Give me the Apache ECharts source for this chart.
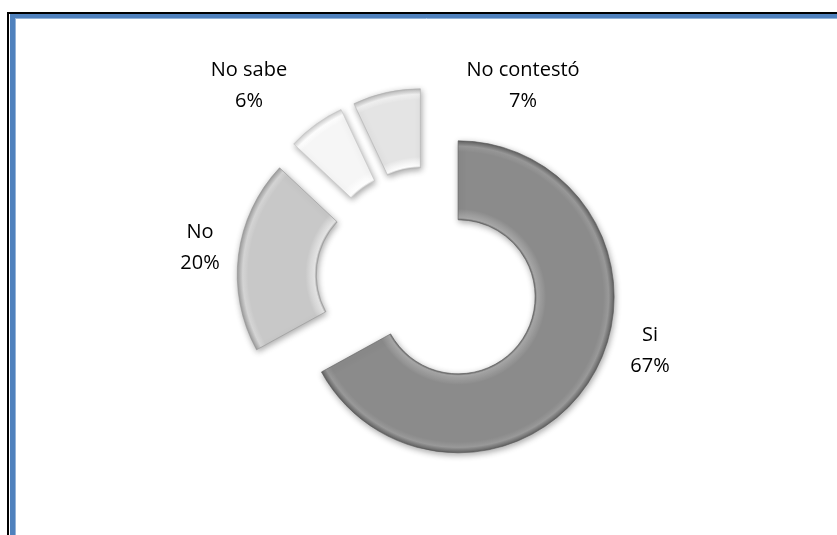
<!DOCTYPE html>
<html>
<head>
<meta charset="utf-8">
<script src="https://cdn.jsdelivr.net/npm/echarts@6/dist/echarts.min.js"></script>
<style>
  html, body { margin: 0; padding: 0; background: #ffffff; }
  #chart { width: 837px; height: 535px; }
</style>
</head>
<body>
<div id="chart"></div>
<script>
// Survey answers (percent of respondents)
const categories = ['Si', 'No', 'No sabe', 'No contestó'];
const percents = [67, 20, 6, 7];
const sliceColors = ['#8b8b8b', '#c8c8c8', '#f6f6f6', '#e4e4e4'];

// Ring geometry
const CX = 428, CY = 279;
const R_IN = 77, R_OUT = 156;
const EXPLODE = 35;

// Centre of each two-line label block
const labelAnchors = [[650, 351], [200, 248], [249, 86], [523, 86]];

function shade(hex, amt) {
  const n = parseInt(hex.slice(1), 16);
  const c = [(n >> 16) & 255, (n >> 8) & 255, n & 255].map(function (v) {
    return Math.max(0, Math.min(255, v + amt));
  });
  return 'rgb(' + c.join(',') + ')';
}

// Radial fill that gives each ring segment a bevelled rim
function ringFill(base) {
  const k = R_IN / R_OUT;
  return {
    type: 'radial', x: CX, y: CY, r: R_OUT, global: true,
    colorStops: [
      { offset: 0, color: base },
      { offset: k, color: shade(base, -30) },
      { offset: k + 0.012, color: shade(base, 30) },
      { offset: k + 0.07, color: base },
      { offset: 0.93, color: base },
      { offset: 0.965, color: shade(base, 14) },
      { offset: 0.99, color: shade(base, -25) },
      { offset: 1, color: shade(base, -45) }
    ]
  };
}

const pieData = categories.map(function (name, i) {
  const st = {
    color: ringFill(sliceColors[i]),
    borderColor: shade(sliceColors[i], -50),
    borderWidth: 0.6,
    shadowBlur: 6,
    shadowColor: 'rgba(0,0,0,0.35)',
    shadowOffsetX: 1,
    shadowOffsetY: 2
  };
  return { name: name, value: percents[i], selected: true, itemStyle: st, select: { itemStyle: st } };
});

// Label text built from the same category / value arrays
const labelTexts = categories.map(function (name, i) {
  return {
    type: 'text',
    silent: true,
    x: labelAnchors[i][0],
    y: labelAnchors[i][1],
    style: {
      text: name + '\n' + percents[i] + '%',
      fontFamily: '"Open Sans", sans-serif',
      fontSize: 20,
      lineHeight: 31,
      fill: '#000000',
      align: 'center',
      verticalAlign: 'middle'
    }
  };
});

const frameLines = [
  { type: 'line', silent: true, shape: { x1: 8, y1: 13, x2: 8, y2: 540 }, style: { stroke: '#000000', lineWidth: 2 } },
  { type: 'line', silent: true, shape: { x1: 7, y1: 13, x2: 840, y2: 13 }, style: { stroke: '#000000', lineWidth: 2 } },
  { type: 'line', silent: true, shape: { x1: 12.5, y1: 14, x2: 12.5, y2: 540 }, style: { stroke: '#4f81bd', lineWidth: 5 } },
  { type: 'line', silent: true, shape: { x1: 10, y1: 16, x2: 840, y2: 16 }, style: { stroke: '#4f81bd', lineWidth: 4 } },
  { type: 'line', silent: true, shape: { x1: 15.5, y1: 18, x2: 15.5, y2: 540 }, style: { stroke: '#95b3d7', lineWidth: 1 } },
  { type: 'line', silent: true, shape: { x1: 15, y1: 18.5, x2: 840, y2: 18.5 }, style: { stroke: '#95b3d7', lineWidth: 1 } }
];

const chart = echarts.init(document.getElementById('chart'), null, { renderer: 'canvas' });

chart.setOption({
  animation: false,
  backgroundColor: '#ffffff',
  graphic: frameLines.concat(labelTexts),
  series: [{
    type: 'pie',
    center: [CX, CY],
    radius: [R_IN, R_OUT],
    startAngle: 90,
    clockwise: true,
    selectedMode: 'multiple',
    selectedOffset: EXPLODE,
    silent: true,
    emphasis: { disabled: true },
    label: { show: false },
    labelLine: { show: false },
    data: pieData
  }]
});
</script>
</body>
</html>
